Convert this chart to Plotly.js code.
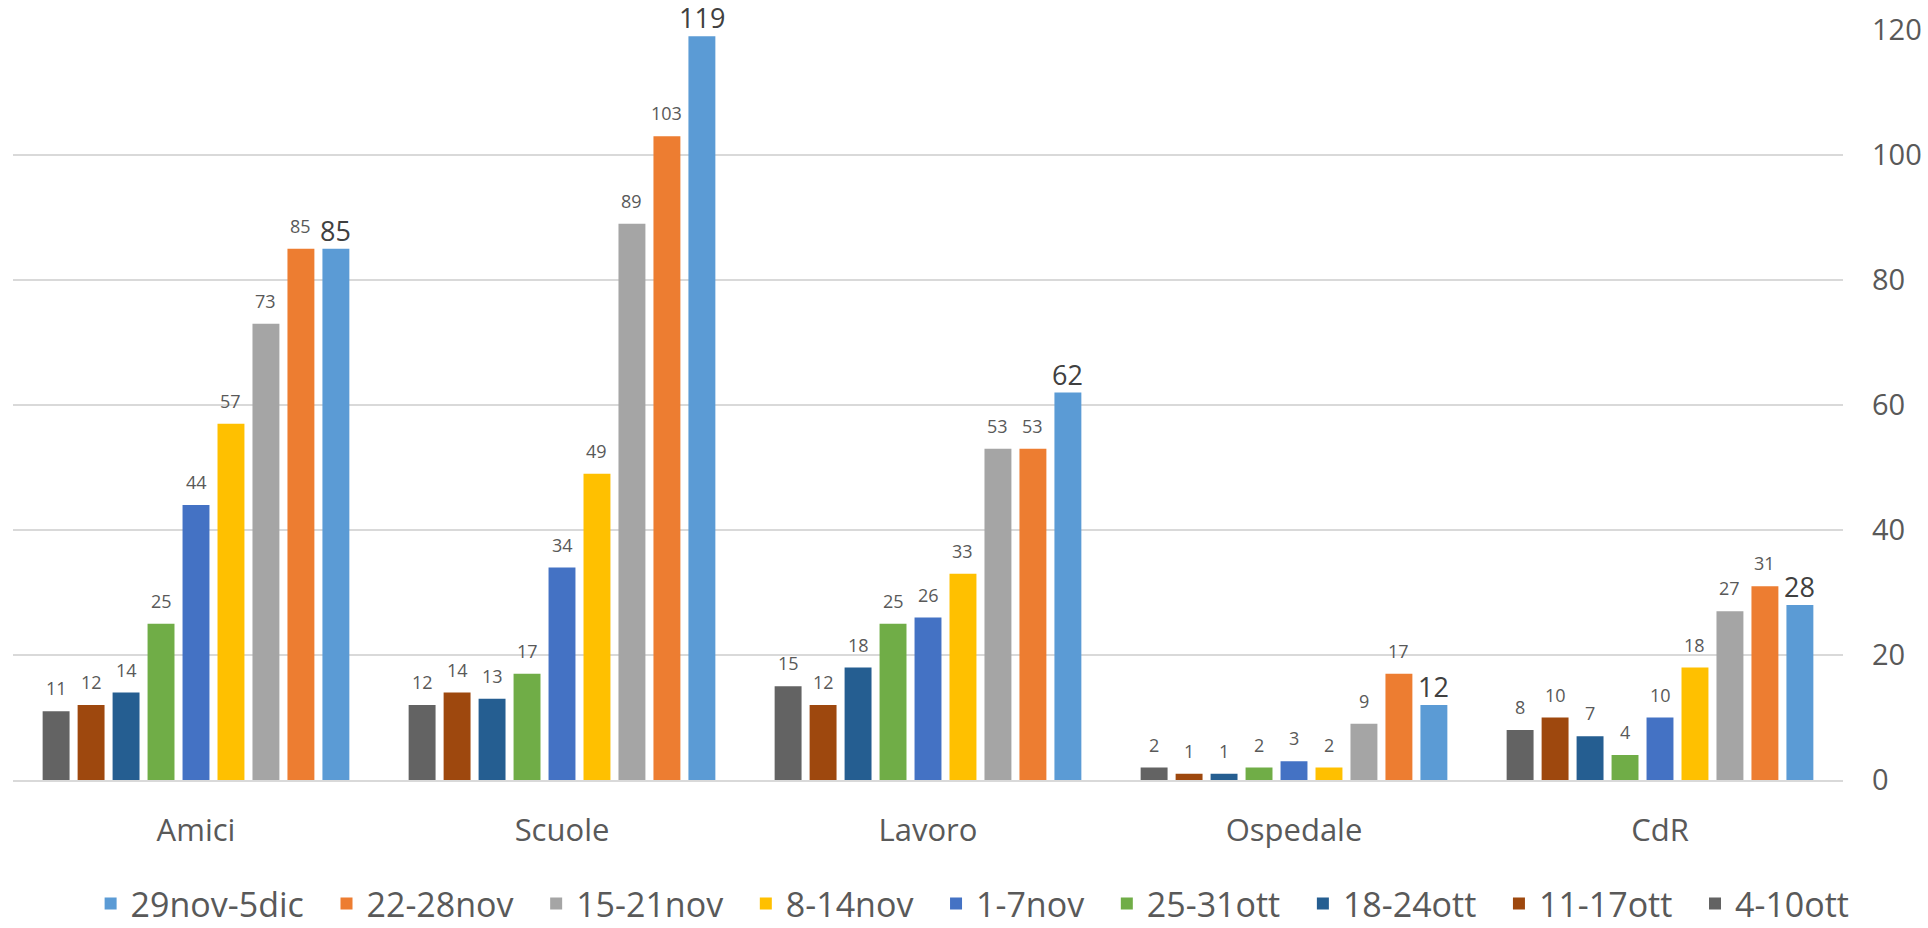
<!DOCTYPE html>
<html>
<head>
<meta charset="utf-8">
<script src="https://cdn.plot.ly/plotly-3.0.1.min.js"></script>
<style>html,body{margin:0;padding:0;background:#fff;}#chart{width:1928px;height:928px;}</style>
</head>
<body>
<div id="chart"></div>
<script>
const categories = ["Amici", "Scuole", "Lavoro", "Ospedale", "CdR"];
const seriesNames = ["4-10ott", "11-17ott", "18-24ott", "25-31ott", "1-7nov", "8-14nov", "15-21nov", "22-28nov", "29nov-5dic"];
const s_4_10ott    = [11, 12, 15, 2, 8];
const s_11_17ott   = [12, 14, 12, 1, 10];
const s_18_24ott   = [14, 13, 18, 1, 7];
const s_25_31ott   = [25, 17, 25, 2, 4];
const s_1_7nov     = [44, 34, 26, 3, 10];
const s_8_14nov    = [57, 49, 33, 2, 18];
const s_15_21nov   = [73, 89, 53, 9, 27];
const s_22_28nov   = [85, 103, 53, 17, 31];
const s_29nov_5dic = [85, 119, 62, 12, 28];
const seriesValues = [s_4_10ott, s_11_17ott, s_18_24ott, s_25_31ott, s_1_7nov, s_8_14nov, s_15_21nov, s_22_28nov, s_29nov_5dic];
const colors = ["#636363", "#9E480E", "#255E91", "#70AD47", "#4472C4", "#FFC000", "#A5A5A5", "#ED7D31", "#5B9BD5"];
const yTicks = [0, 20, 40, 60, 80, 100, 120];

const W = 1928, H = 928;
const margin = {l: 13, r: 85, t: 30, b: 148};
const bargap = 0.14;
const plotW = W - margin.l - margin.r;
const n = seriesNames.length;
const pitch = plotW / categories.length * (1 - bargap) / n;

const traces = seriesNames.map((name, i) => ({
  type: "bar",
  name: name + "\u00a0\u00a0",
  x: categories,
  y: seriesValues[i],
  marker: {color: colors[i]},
  hoverinfo: "x+y+name"
}));

const annotations = [];
seriesValues.forEach((vals, i) => {
  const last = i === n - 1;
  vals.forEach((v, j) => {
    annotations.push({
      x: categories[j], y: v, xref: "x", yref: "y",
      text: String(v), showarrow: false,
      xanchor: "center", yanchor: "bottom",
      xshift: (i - (n - 1) / 2) * pitch,
      yshift: last ? -2 : 9,
      font: {family: "Open Sans, sans-serif", size: last ? 27 : 18, color: last ? "#404040" : "#595959"}
    });
  });
});

const layout = {
  width: W, height: H,
  margin: margin,
  paper_bgcolor: "#fff", plot_bgcolor: "#fff",
  barmode: "group",
  bargap: bargap,
  bargroupgap: 0.23,
  font: {family: "Open Sans, sans-serif", color: "#595959"},
  xaxis: {
    type: "category",
    tickfont: {size: 31, color: "#595959"},
    ticks: "outside", ticklen: 22, tickcolor: "rgba(0,0,0,0)",
    showline: true, linecolor: "#d9d9d9", linewidth: 2,
    showgrid: false, zeroline: false,
    automargin: false
  },
  yaxis: {
    side: "right",
    range: [0, 120],
    tickvals: yTicks,
    ticktext: yTicks.map(String),
    tickfont: {size: 29, color: "#595959"},
    ticklabelstandoff: 28,
    showgrid: true, gridcolor: "#d9d9d9", gridwidth: 1.5,
    zeroline: false, showline: false, ticks: "",
    automargin: false
  },
  legend: {
    orientation: "h",
    traceorder: "reversed",
    xref: "container", yref: "container",
    x: 0.047, xanchor: "left",
    y: 0.026, yanchor: "middle",
    font: {size: 34, color: "#595959"},
    itemwidth: 30
  },
  annotations: annotations,
  showlegend: true
};

Plotly.newPlot("chart", traces, layout, {displayModeBar: false, staticPlot: true});
</script>
</body>
</html>
